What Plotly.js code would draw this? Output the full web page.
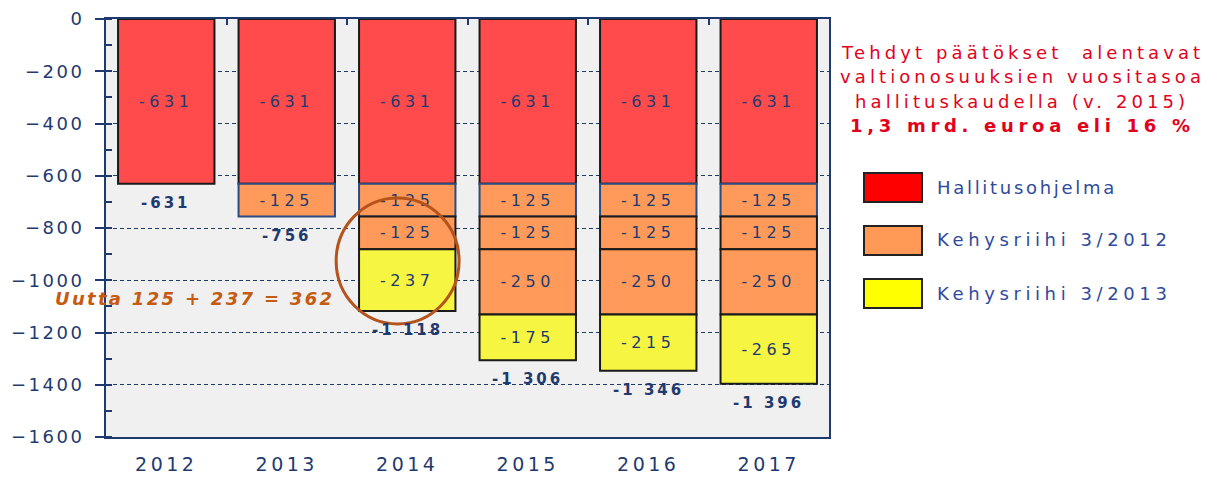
<!DOCTYPE html>
<html>
<head>
<meta charset="utf-8">
<script src="https://cdn.plot.ly/plotly-3.0.1.min.js"></script>
<style>
html,body{margin:0;padding:0;background:#fff;}
#chart{width:1221px;height:477px;}
#chart .ytick text{letter-spacing:2.5px;}
#chart .xtick text{letter-spacing:3.5px;}
</style>
</head>
<body>
<div id="chart"></div>
<script>
// ---- data ----
const years = ['2012', '2013', '2014', '2015', '2016', '2017'];
const hallitusohjelma = [-631, -631, -631, -631, -631, -631];
const kehys2012a = [null, -125, -125, -125, -125, -125];
const kehys2012b = [null, null, -125, -125, -125, -125];
const kehys2012c = [null, null, null, -250, -250, -250];
const kehys2013 = [null, null, -237, -175, -215, -265];
const seriesNames = ['Hallitusohjelma', 'Kehysriihi 3/2012', 'Kehysriihi 3/2013'];
const noteLines = ['Tehdyt päätökset  alentavat', 'valtionosuuksien vuositasoa', 'hallituskaudella (v. 2015)', '1,3 mrd. euroa eli 16 %'];
const circleNote = 'Uutta 125 + 237 = 362';

// ---- styles ----
const navy = '#1f3a6e';
const barColors = ['#ff4b4b', '#ff9a5a', '#f5f542'];
const legendColors = ['#ff0000', '#ff9955', '#ffff00'];
const fontFam = 'DejaVu Sans, Verdana, sans-serif';

const sp = (t, ls) => '<span style="letter-spacing:' + ls + 'px">' + t + '</span>';
const lab = arr => arr.map(v => v === null ? '' : sp(String(v), 4.5));
const fmtTotal = v => '-' + String(Math.abs(v)).replace(/\B(?=(\d{3})+(?!\d))/g, ' ');
const allSeries = [hallitusohjelma, kehys2012a, kehys2012b, kehys2012c, kehys2013];
const totals = years.map((_, i) => allSeries.reduce((s, a) => s + (a[i] || 0), 0));

function barTrace(name, y, color, lineColor) {
  return {
    type: 'bar', name: name, x: years, y: y,
    text: lab(y), textposition: 'inside', insidetextanchor: 'middle',
    constraintext: 'none',
    textfont: {family: fontFam, size: 16, color: navy},
    marker: {color: color, line: {color: lineColor, width: 2}},
    showlegend: false, hoverinfo: 'skip'
  };
}

const traces = [
  barTrace(seriesNames[0], hallitusohjelma, barColors[0], '#1a1a1a'),
  barTrace(seriesNames[1], kehys2012a, barColors[1], '#2a4a80'),
  barTrace(seriesNames[1], kehys2012b, barColors[1], '#1a1a1a'),
  barTrace(seriesNames[1], kehys2012c, barColors[1], '#1a1a1a'),
  barTrace(seriesNames[2], kehys2013, barColors[2], '#1a1a1a'),
  // invisible helper so the top (boundary-tick) axis is drawn
  {type: 'scatter', mode: 'markers', x: years, y: totals, xaxis: 'x2',
   marker: {opacity: 0}, hoverinfo: 'skip', showlegend: false}
];

// pixel helpers for paper coordinates
const L = 106, R = 829, T = 19, B = 437;
const px = x => (x - L) / (R - L);
const py = y => (B - y) / (B - T);

const annotations = [];
// totals below bars (x = category index)
years.forEach((yr, i) => {
  annotations.push({
    x: i, y: totals[i], xref: 'x', yref: 'y', yshift: -19,
    text: '<b>' + sp(fmtTotal(totals[i]), 3) + '</b>', showarrow: false,
    xanchor: 'center', yanchor: 'middle',
    font: {family: fontFam, size: 15, color: navy}
  });
});
const noteY = [52, 77, 101, 126];
noteLines.forEach((t, i) => {
  annotations.push({
    xref: 'paper', yref: 'paper', x: px(1022), y: py(noteY[i]),
    text: i === 3 ? '<b>' + sp(t, 4.7) + '</b>' : sp(t, 4.1), showarrow: false,
    xanchor: 'center', yanchor: 'middle',
    font: {family: fontFam, size: 18, color: '#e3001b'}
  });
});
const legY = [187, 240, 293];
const shapes = [];
seriesNames.forEach((n, i) => {
  shapes.push({
    type: 'rect', xref: 'paper', yref: 'paper',
    x0: px(864), x1: px(922), y0: py(legY[i] - 14), y1: py(legY[i] + 15),
    fillcolor: legendColors[i], line: {color: '#222', width: 2}
  });
  annotations.push({
    xref: 'paper', yref: 'paper', x: px(935), y: py(legY[i]),
    text: sp(n, i === 0 ? 2.7 : 4.6), showarrow: false, xanchor: 'left', yanchor: 'middle',
    font: {family: fontFam, size: 18, color: '#2f4b9c'}
  });
});
annotations.push({
  xref: 'paper', yref: 'paper', x: px(194), y: py(298),
  text: '<b><i>' + sp(circleNote, 2.3) + '</i></b>', showarrow: false,
  xanchor: 'center', yanchor: 'middle',
  font: {family: fontFam, size: 18, color: '#c55a11'}
});
shapes.push({
  type: 'circle', xref: 'x', yref: 'y',
  x0: 1.41, x1: 2.43, y0: -685, y1: -1167,
  line: {color: '#b5531b', width: 3}
});

const layout = {
  width: 1221, height: 477,
  margin: {l: L, r: 1221 - R, t: T, b: 477 - B},
  paper_bgcolor: '#ffffff', plot_bgcolor: '#f0f0f0',
  barmode: 'relative', bargap: 0.2,
  showlegend: false,
  font: {family: fontFam, color: navy},
  xaxis: {
    type: 'category', range: [-0.5, years.length - 0.5],
    showgrid: false, zeroline: false,
    showline: true, linecolor: navy, linewidth: 2, mirror: true,
    ticks: '', ticklabelstandoff: 9,
    tickfont: {family: fontFam, size: 19, color: navy}
  },
  xaxis2: {
    type: 'category', overlaying: 'x', side: 'top',
    range: [-0.5, years.length - 0.5],
    showgrid: false, zeroline: false, showline: false,
    ticks: 'inside', tickson: 'boundaries', ticklen: 6, tickwidth: 2, tickcolor: navy,
    showticklabels: false
  },
  yaxis: {
    range: [-1600, 0], dtick: 200, tick0: 0,
    showgrid: true, gridcolor: navy, griddash: '4px,3px', gridwidth: 1,
    zeroline: false, showline: true, linecolor: navy, linewidth: 2, mirror: true,
    ticks: 'outside', ticklen: 9, tickwidth: 2, tickcolor: navy,
    ticklabelstandoff: 7,
    minor: {dtick: 100, ticks: 'inside', ticklen: 6, tickwidth: 2, tickcolor: navy, showgrid: false},
    tickfont: {family: fontFam, size: 18, color: navy}
  },
  shapes: shapes,
  annotations: annotations
};

Plotly.newPlot('chart', traces, layout, {staticPlot: true, displayModeBar: false});
</script>
</body>
</html>
